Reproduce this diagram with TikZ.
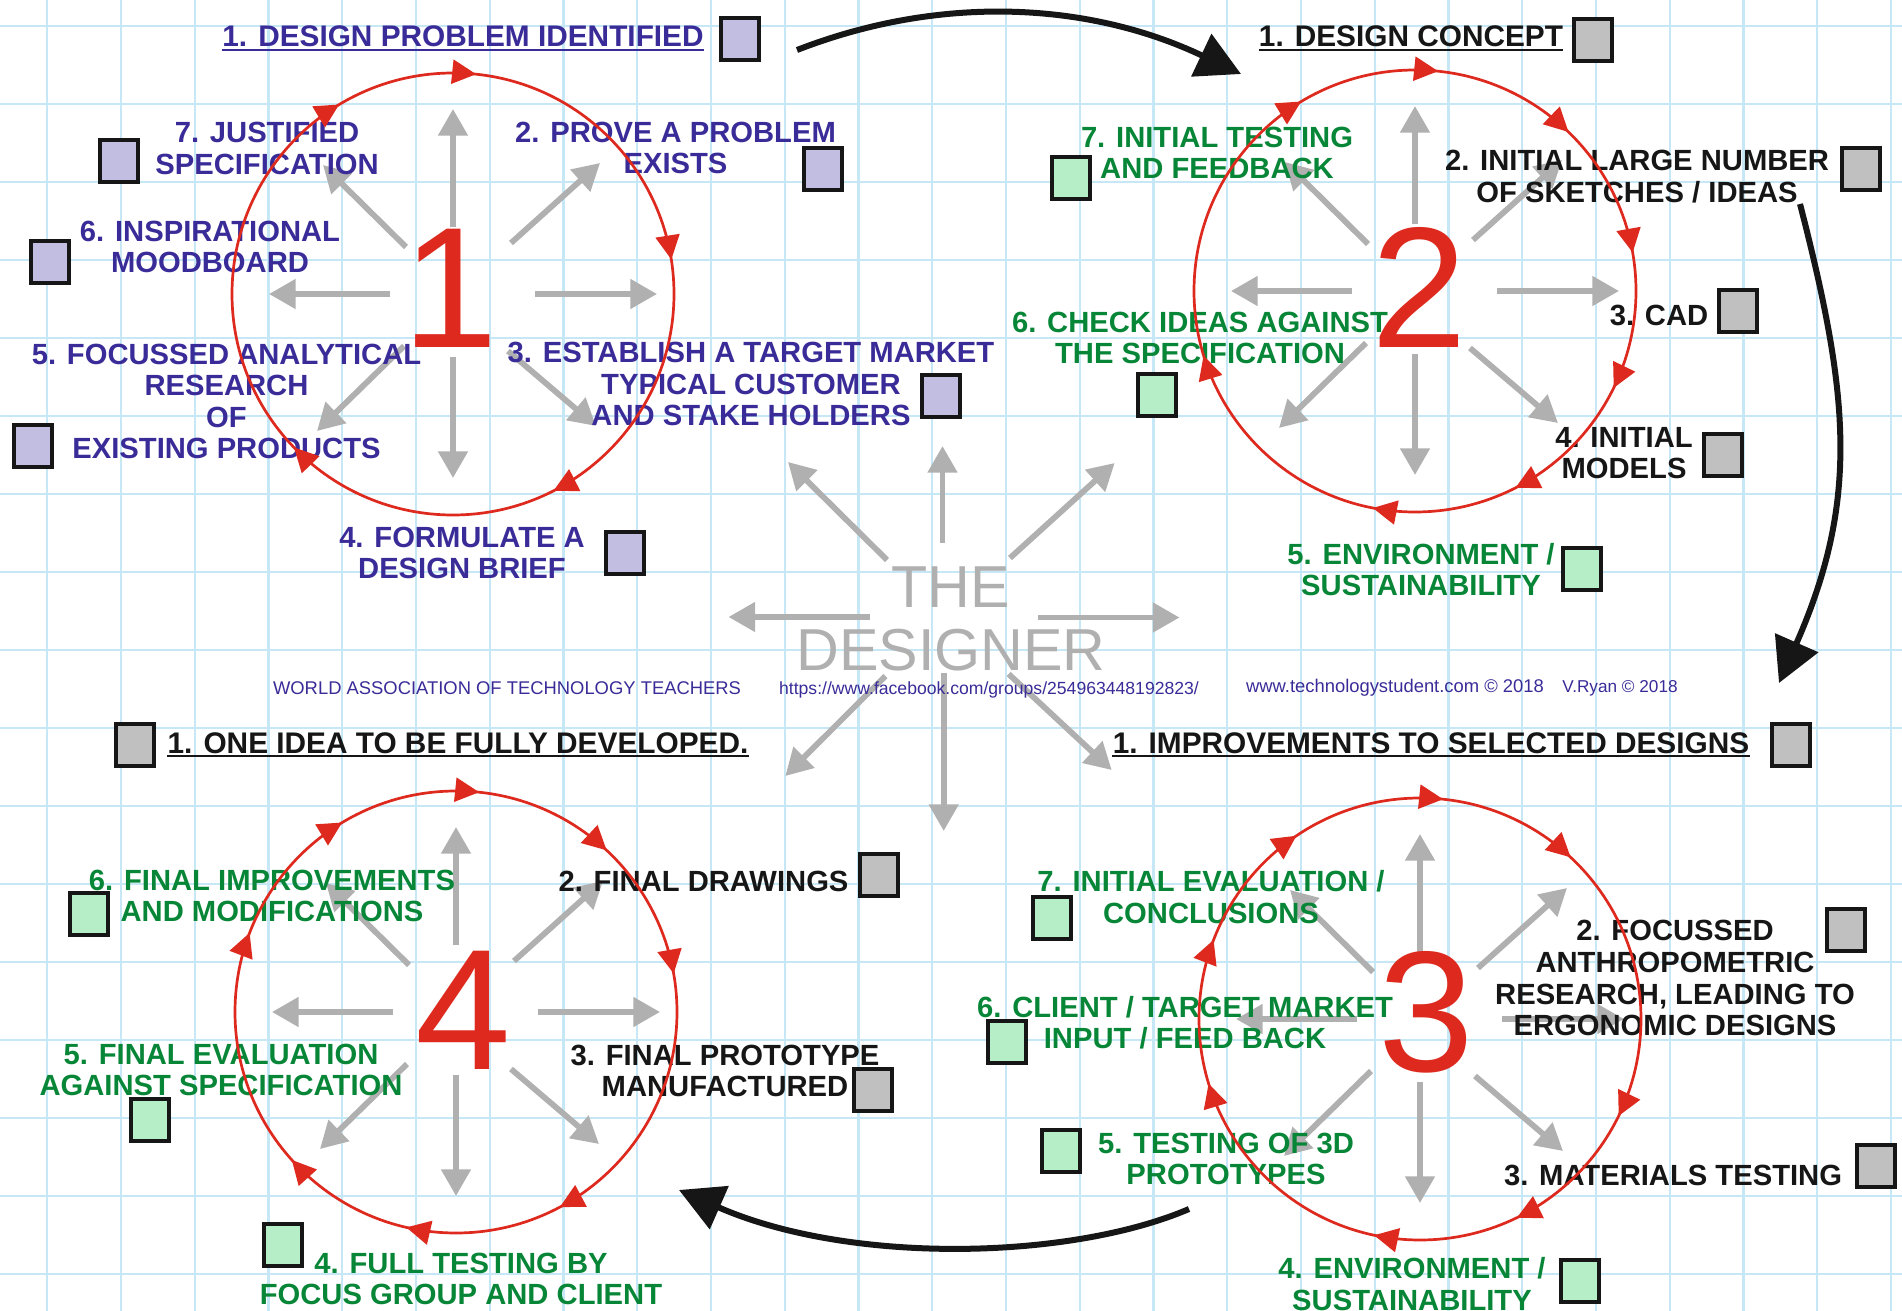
\documentclass[tikz,border=0pt]{standalone}
\usepackage{fontspec}
\setmainfont{Liberation Sans}
\usetikzlibrary{arrows.meta,calc,decorations.markings}
\definecolor{purp}{RGB}{58,44,152}
\definecolor{grn}{RGB}{8,134,56}
\definecolor{blk}{RGB}{22,22,22}
\definecolor{lav}{RGB}{194,190,226}
\definecolor{boxgray}{RGB}{192,192,192}
\definecolor{boxgrn}{RGB}{182,238,200}
\definecolor{redc}{RGB}{222,42,30}
\definecolor{agray}{RGB}{176,176,176}
\definecolor{gridc}{RGB}{198,232,246}
\tikzset{
  gridline/.style={draw=gridc, line width=1.1pt},
  garrow/.style={draw=agray, line width=2.9pt, -{Triangle[length=13.3pt,width=14.3pt]}},
  barrow/.style={draw=blk, line width=3pt, -{Triangle[length=22pt,width=23pt]}},
  redcirc/.style={color=redc, line width=1.35pt},
  rtip/.style={postaction={decorate, decoration={markings, mark=at position #1 with {\arrow{Triangle[length=12pt,width=12pt]}}}}},
  lbl/.style={font=\fontsize{14.6}{15.8}\selectfont\bfseries, align=center, anchor=base, inner sep=0pt},
  hdg/.style={font=\fontsize{14.9}{16}\selectfont\bfseries, anchor=base, inner sep=0pt},
  pl/.style={lbl, text=purp},
  gl/.style={lbl, text=grn},
  bl/.style={lbl, text=blk},
  digit/.style={font=\fontsize{86}{86}\selectfont, text=redc, anchor=base, inner sep=0pt},
  foot/.style={text=purp, anchor=base, inner sep=0pt},
  sq/.style={draw=blk, line width=2pt, minimum width=19pt, minimum height=21pt, inner sep=0pt},
  sql/.style={sq, fill=lav},
  sqg/.style={sq, fill=boxgray},
  sqn/.style={sq, fill=boxgrn},
  uline/.style={line width=1pt},
}
\newcommand\myrays[1]{%
  \foreach \sx/\sy/\ex/\ey in {0/-67/0/-185, 0/63/0/184, -63/0/-184/0, 82/0/204/0,
      -47/-47/-130/-129, 58/-51/147/-131, -49/52/-136/137, 55/57/143/132}{%
    \draw[garrow] ($(#1)+(\sx,\sy)$) -- ($(#1)+(\ex,\ey)$);}}
\begin{document}
\begin{tikzpicture}[x=0.5pt,y=-0.5pt]
\useasboundingbox (0,0) rectangle (1902,1311);
\clip (0,0) rectangle (1902,1311);
\fill[white] (0,0) rectangle (1902,1311);
% grid
\foreach \k in {0,...,25} \draw[gridline] ({47.3+73.75*\k},0) -- ({47.3+73.75*\k},1311);
\foreach \k in {0,...,16} \draw[gridline] (0,{25.9+78*\k}) -- (1902,{25.9+78*\k});
% centres
\coordinate (c1) at (453,294);
\coordinate (c2) at (1415,291);
\coordinate (c3) at (1420,1019);
\coordinate (c4) at (456,1012);
\coordinate (dz) at (943,617);
% grey rays
\myrays{c1}\myrays{c2}\myrays{c3}\myrays{c4}
\foreach \sx/\sy/\ex/\ey in {-0.5/-74/-0.5/-171, 0.7/56/0.7/214, -73/0/-214.5/0, 95/0.5/236.5/0.5,
    -56/-57/-155/-155, 67/-59/171.7/-154, -57.6/59/-157.7/159, 65.6/57/168.7/153}{%
  \draw[garrow] ($(dz)+(\sx,\sy)$) -- ($(dz)+(\ex,\ey)$);}
\node[font=\fontsize{29.6}{31.5}\selectfont, text=agray, align=center, anchor=base, inner sep=0pt] (des) at (951,670) {THE\\DESIGNER};
% digits
\node[digit] (n1) at (450.3,347.3) {1};
\node[digit] (n2) at (1419,347) {2};
\node[digit] (n3) at (1426.6,1071) {3};
\node[digit] (n4) at (463,1069) {4};
% footer
\node[foot, font=\fontsize{9.2}{11}\selectfont] (f1) at (507,694) {WORLD ASSOCIATION OF TECHNOLOGY TEACHERS};
\node[foot, font=\fontsize{8.8}{11}\selectfont] (f2) at (989,694) {https://www.facebook.com/groups/254963448192823/};
\node[foot, font=\fontsize{9.2}{11}\selectfont] (f3) at (1395,692.5) {www.technologystudent.com © 2018};
\node[foot, font=\fontsize{8.6}{11}\selectfont] (f4) at (1620,692.5) {V.Ryan © 2018};
% cycle 1 labels (y = baseline of last line)
\node[hdg, text=purp] (h1) at (463,47) {1. DESIGN PROBLEM IDENTIFIED};
\draw[uline, purp] ([yshift=-1.4pt]h1.base west) -- ([yshift=-1.4pt]h1.base east);
\node[pl] (p7) at (267,174.6) {7. JUSTIFIED\\SPECIFICATION};
\node[pl] (p6) at (210,272.6) {6. INSPIRATIONAL\\MOODBOARD};
\node[pl] (p5) at (226.5,458.8) {5. FOCUSSED ANALYTICAL\\RESEARCH\\OF\\EXISTING PRODUCTS};
\node[pl] (p2) at (675.5,173.6) {2. PROVE A PROBLEM\\EXISTS};
\node[pl] (p3) at (751,425.8) {3. ESTABLISH A TARGET MARKET\\TYPICAL CUSTOMER\\AND STAKE HOLDERS};
\node[pl] (p4) at (462,578.6) {4. FORMULATE A\\DESIGN BRIEF};
% cycle 2 labels
\node[hdg, text=blk] (h2) at (1411,47) {1. DESIGN CONCEPT};
\draw[uline, blk] ([yshift=-1.4pt]h2.base west) -- ([yshift=-1.4pt]h2.base east);
\node[gl] (q7) at (1217,178.6) {7. INITIAL TESTING\\AND FEEDBACK};
\node[bl] (q2) at (1637,202) {2. INITIAL LARGE NUMBER\\OF SKETCHES / IDEAS};
\node[bl] (q3) at (1659,325) {3. CAD};
\node[bl] (q4) at (1624,478.6) {4. INITIAL\\MODELS};
\node[gl] (q5) at (1421,595.6) {5. ENVIRONMENT /\\SUSTAINABILITY};
\node[gl] (q6) at (1200,363.6) {6. CHECK IDEAS AGAINST\\THE SPECIFICATION};
% cycle 3 labels
\node[hdg, text=blk] (h3) at (1431,753) {1. IMPROVEMENTS TO SELECTED DESIGNS};
\draw[uline, blk] ([yshift=-1.4pt]h3.base west) -- ([yshift=-1.4pt]h3.base east);
\node[gl] (r7) at (1211,923) {7. INITIAL EVALUATION /\\CONCLUSIONS};
\node[bl] (r2) at (1675,1035.6) {2. FOCUSSED\\ANTHROPOMETRIC\\RESEARCH, LEADING TO\\ERGONOMIC DESIGNS};
\node[bl] (r3) at (1673,1185) {3. MATERIALS TESTING};
\node[gl] (r4) at (1412,1310) {4. ENVIRONMENT /\\SUSTAINABILITY};
\node[gl] (r5) at (1226,1184.6) {5. TESTING OF 3D\\PROTOTYPES};
\node[gl] (r6) at (1185,1048.6) {6. CLIENT / TARGET MARKET\\INPUT / FEED BACK};
% cycle 4 labels
\node[hdg, text=blk] (h4) at (458,753) {1. ONE IDEA TO BE FULLY DEVELOPED.};
\draw[uline, blk] ([yshift=-1.4pt]h4.base west) -- ([yshift=-1.4pt]h4.base east);
\node[gl] (s6) at (272,921.6) {6. FINAL IMPROVEMENTS\\AND MODIFICATIONS};
\node[bl] (s2) at (703.5,891) {2. FINAL DRAWINGS};
\node[gl] (s5) at (221,1095.6) {5. FINAL EVALUATION\\AGAINST SPECIFICATION};
\node[bl] (s3) at (725,1096.6) {3. FINAL PROTOTYPE\\MANUFACTURED};
\node[gl] (s4) at (461,1304.6) {4. FULL TESTING BY\\FOCUS GROUP AND CLIENT};
% boxes
\node[sql] (bh1) at (739.8,39.3) {};
\node[sql] (bp7) at (119.2,161.3) {};
\node[sql] (bp6) at (49.5,261.7) {};
\node[sql] (bp5) at (32.8,446) {};
\node[sql] (bp2) at (823,169) {};
\node[sql] (bp3) at (941.4,396) {};
\node[sql] (bp4) at (625.2,552.7) {};
\node[sqg] (bh2) at (1592.5,40.1) {};
\node[sqn] (bq7) at (1070.5,178) {};
\node[sqg] (bq2) at (1860.5,169.5) {};
\node[sqg] (bq3) at (1738,310.5) {};
\node[sqg] (bq4) at (1722.5,454.5) {};
\node[sqn] (bq5) at (1581.8,569) {};
\node[sqn] (bq6) at (1156.5,394.5) {};
\node[sqg] (bh3) at (1790.9,744.9) {};
\node[sqn] (br7) at (1052.3,917.8) {};
\node[sqg] (br2) at (1845.5,929.5) {};
\node[sqg] (br3) at (1875.8,1166) {};
\node[sqn] (br4) at (1579.5,1281.2) {};
\node[sqn] (br5) at (1061.3,1151) {};
\node[sqn] (br6) at (1006.8,1042) {};
\node[sqg] (bh4) at (134.7,744.9) {};
\node[sqn] (bs6) at (89,914) {};
\node[sqg] (bs2) at (879.3,874.6) {};
\node[sqn] (bs5) at (149.8,1119.5) {};
\node[sqg] (bs3) at (873.3,1090) {};
\node[sqn] (bs4) at (283.2,1245) {};
% red cycles
\draw[redcirc, rtip=0.7667, rtip=0.6639, rtip=0.975, rtip=0.175, rtip=0.3778] (c1) circle[radius=221];
\draw[redcirc, rtip=0.7667, rtip=0.8722, rtip=0.9722, rtip=0.0722, rtip=0.175, rtip=0.2806, rtip=0.4528, rtip=0.6639] (c2) circle[radius=221];
\draw[redcirc, rtip=0.7667, rtip=0.8694, rtip=0.0722, rtip=0.1778, rtip=0.2833, rtip=0.4528, rtip=0.5583, rtip=0.6556] (c3) circle[radius=221];
\draw[redcirc, rtip=0.7667, rtip=0.8694, rtip=0.9722, rtip=0.1722, rtip=0.2861, rtip=0.3833, rtip=0.5583, rtip=0.6639] (c4) circle[radius=221];
% black arrows between stages
\coordinate (ta0) at (797,50);
\coordinate (ta1) at (1241,74);
\coordinate (ra0) at (1800,204);
\coordinate (ra1) at (1779,683);
\coordinate (ba0) at (1189,1209);
\coordinate (ba1) at (679,1190);
\draw[barrow] (ta0) .. controls (941,-6) and (1089,2) .. (ta1);
\draw[barrow] (ra0) .. controls (1850,398) and (1859,501) .. (ra1);
\draw[barrow] (ba0) .. controls (1070,1260) and (850,1265) .. (ba1);
\end{tikzpicture}
\end{document}
